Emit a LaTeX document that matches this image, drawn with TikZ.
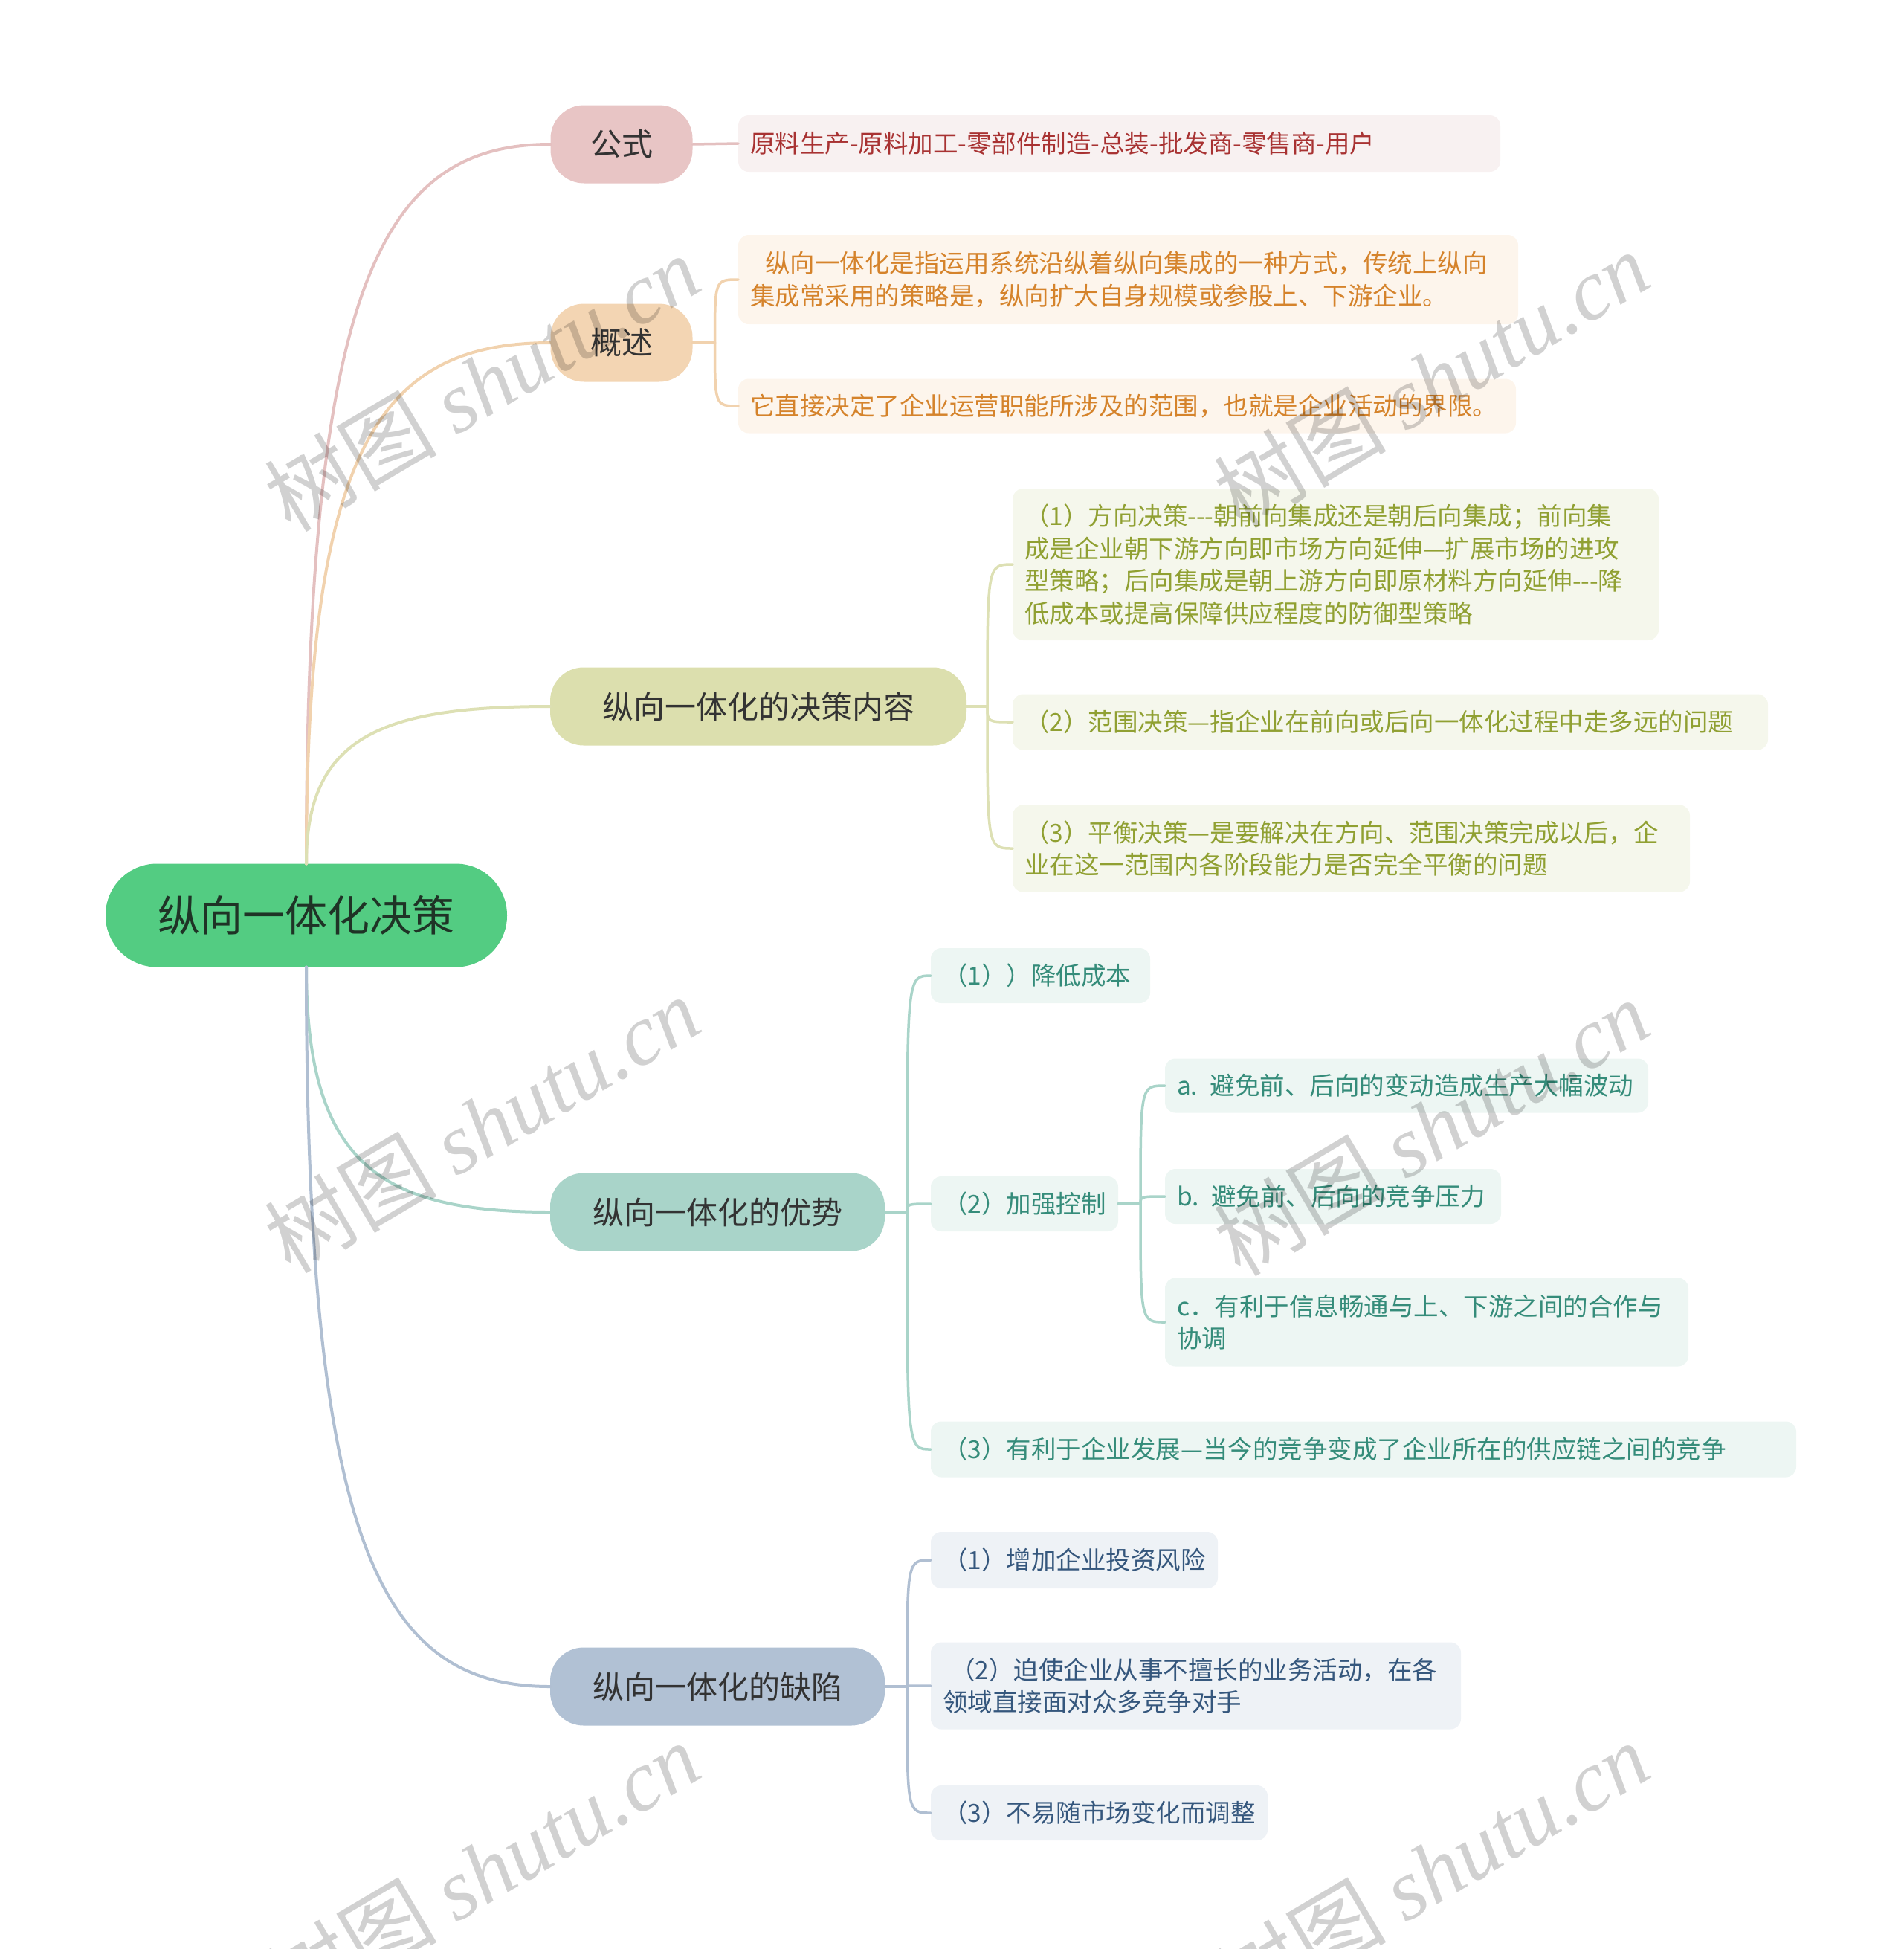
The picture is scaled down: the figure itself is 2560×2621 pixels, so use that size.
\documentclass[tikz,border=0pt]{standalone}
\usepackage{fontspec}
\setmainfont{Noto Sans CJK SC}
\newfontfamily\wmserif{Liberation Serif}
\usetikzlibrary{calc}

\definecolor{rootfill}{HTML}{53CC82}
\definecolor{roottext}{HTML}{1F3326}
\definecolor{topictext}{HTML}{333333}
% branch 1 (formula)
\definecolor{aFill}{HTML}{E8C5C5}
\definecolor{aLine}{HTML}{E4C0C0}
\definecolor{aBg}{HTML}{F8F1F1}
\definecolor{aTxt}{HTML}{A83232}
% branch 2 (overview)
\definecolor{bFill}{HTML}{F3D5B3}
\definecolor{bLine}{HTML}{F1D2AE}
\definecolor{bBg}{HTML}{FDF5EC}
\definecolor{bTxt}{HTML}{D5832B}
% branch 3 (decision content)
\definecolor{cFill}{HTML}{DCDFAE}
\definecolor{cLine}{HTML}{DDE0B4}
\definecolor{cBg}{HTML}{F5F7EC}
\definecolor{cTxt}{HTML}{90A032}
% branch 4 (advantages)
\definecolor{dFill}{HTML}{A9D4C9}
\definecolor{dLine}{HTML}{A9D4C9}
\definecolor{dBg}{HTML}{EDF6F3}
\definecolor{dTxt}{HTML}{358C7A}
% branch 5 (defects)
\definecolor{eFill}{HTML}{B1C1D4}
\definecolor{eLine}{HTML}{B0BFD2}
\definecolor{eBg}{HTML}{EEF2F6}
\definecolor{eTxt}{HTML}{35577D}

\begin{document}
\begin{tikzpicture}[x=1pt,y=-1pt,
  every node/.style={inner sep=0pt, outer sep=0pt},
  rootbox/.style={fill=rootfill, rounded corners=69pt, minimum width=540pt,
    minimum height=139pt, font=\fontsize{57}{68}\selectfont, text=roottext},
  topic/.style={rounded corners=45pt, minimum height=105pt,
    font=\fontsize{42}{50}\selectfont, text=topictext},
  leaf/.style={rounded corners=14pt, inner xsep=16pt, align=left, anchor=west,
    font=\fontsize{33.5}{43.6}\selectfont},
  la/.style={leaf, fill=aBg, text=aTxt},
  lb/.style={leaf, fill=bBg, text=bTxt},
  lc/.style={leaf, fill=cBg, text=cTxt},
  ld/.style={leaf, fill=dBg, text=dTxt},
  le/.style={leaf, fill=eBg, text=eTxt},
  mainline/.style={line width=4pt, line cap=round},
  subline/.style={line width=3.5pt, line cap=round},
  wm/.style={text=black, text opacity=0.18, rotate=30.6,
    font=\fontsize{116}{126}\selectfont}
]
\useasboundingbox (0,0) rectangle (2560,2621);

% root and topics
\node[rootbox] (root) at (412,1231) {纵向一体化决策};
\node[topic, fill=aFill, minimum width=191pt] (g1) at (836,194) {公式};
\node[topic, fill=bFill, minimum width=191pt] (g2) at (836,461) {概述};
\node[topic, fill=cFill, minimum width=560pt] (g3) at (1020,950) {纵向一体化的决策内容};
\node[topic, fill=dFill, minimum width=450pt] (g4) at (965,1630) {纵向一体化的优势};
\node[topic, fill=eFill, minimum width=450pt] (g5) at (965,2268) {纵向一体化的缺陷};

% leaves
\node[la, text width=993pt, minimum height=76pt] (a1) at (993,193)
  {原料生产-原料加工-零部件制造-总装-批发商-零售商-用户};

\node[lb, text width=1017pt, minimum height=120pt] (b1) at (993,376)
  {\hspace*{20pt}纵向一体化是指运用系统沿纵着纵向集成的一种方式，传统上纵向\\集成常采用的策略是，纵向扩大自身规模或参股上、下游企业。};
\node[lb, text width=1014pt, minimum height=73pt] (b2) at (993,546)
  {它直接决定了企业运营职能所涉及的范围，也就是企业活动的界限。};

\node[lc, text width=837pt, minimum height=204pt] (c1) at (1362,759)
  {（1）方向决策-{}-{}-朝前向集成还是朝后向集成；前向集\\成是企业朝下游方向即市场方向延伸—扩展市场的进攻\\型策略；后向集成是朝上游方向即原材料方向延伸-{}-{}-降\\低成本或提高保障供应程度的防御型策略};
\node[lc, text width=984pt, minimum height=75pt] (c2) at (1362,971)
  {（2）范围决策—指企业在前向或后向一体化过程中走多远的问题};
\node[lc, text width=879pt, minimum height=117pt] (c3) at (1362,1141)
  {（3）平衡决策—是要解决在方向、范围决策完成以后，企\\业在这一范围内各阶段能力是否完全平衡的问题};

\node[ld, text width=263pt, minimum height=74pt] (d1) at (1252,1312) {（1））降低成本};
\node[ld, text width=220pt, minimum height=74pt] (d2) at (1252,1619) {（2）加强控制};
\node[ld, text width=618pt, minimum height=73pt] (d2a) at (1567,1460) {a. 避免前、后向的变动造成生产大幅波动};
\node[ld, text width=420pt, minimum height=74pt] (d2b) at (1567,1609) {b. 避免前、后向的竞争压力};
\node[ld, text width=672pt, minimum height=119pt] (d2c) at (1567,1778)
  {c．有利于信息畅通与上、下游之间的合作与\\协调};
\node[ld, text width=1132pt, minimum height=75pt] (d3) at (1252,1949)
  {（3）有利于企业发展—当今的竞争变成了企业所在的供应链之间的竞争};

\node[le, text width=354pt, minimum height=76pt] (e1) at (1252,2098) {（1）增加企业投资风险};
\node[le, text width=681pt, minimum height=117pt] (e2) at (1252,2267)
  {\hspace*{10pt}（2）迫使企业从事不擅长的业务活动，在各\\领域直接面对众多竞争对手};
\node[le, text width=421pt, minimum height=74pt] (e3) at (1252,2438) {（3）不易随市场变化而调整};

% root to topics
\draw[mainline, aLine] (root.north) .. controls ($(root.north)!0.8!(root.north |- g1.west)$) and ($(g1.west)+(-230,0)$) .. (g1.west);
\draw[mainline, bLine] (root.north) .. controls ($(root.north)!0.8!(root.north |- g2.west)$) and ($(g2.west)+(-230,0)$) .. (g2.west);
\draw[mainline, cLine] (root.north) .. controls ($(root.north)!0.8!(root.north |- g3.west)$) and ($(g3.west)+(-230,0)$) .. (g3.west);
\draw[mainline, dLine] (root.south) .. controls ($(root.south)!0.8!(root.south |- g4.west)$) and ($(g4.west)+(-230,0)$) .. (g4.west);
\draw[mainline, eLine] (root.south) .. controls ($(root.south)!0.8!(root.south |- g5.west)$) and ($(g5.west)+(-230,0)$) .. (g5.west);

% topic 1
\draw[subline, aLine] (g1.east) -- (a1.west);

% junctions
\coordinate (j2) at ($(g2.east)+(30,0)$);
\coordinate (j3) at ($(g3.east)+(28,0)$);
\coordinate (j4) at ($(g4.east)+(30,0)$);
\coordinate (j42) at ($(d2.east)+(30,0)$);
\coordinate (j5) at ($(g5.east)+(30,0)$);

\draw[subline, bLine] (g2.east) -- (j2);
\foreach \c in {b1,b2}
  \draw[subline, bLine] (j2) .. controls (j2 |- \c.west) and (j2 |- \c.west) .. (\c.west);

\draw[subline, cLine] (g3.east) -- (j3);
\foreach \c in {c1,c2,c3}
  \draw[subline, cLine] (j3) .. controls (j3 |- \c.west) and (j3 |- \c.west) .. (\c.west);

\draw[subline, dLine] (g4.east) -- (j4);
\foreach \c in {d1,d2,d3}
  \draw[subline, dLine] (j4) .. controls (j4 |- \c.west) and (j4 |- \c.west) .. (\c.west);

\draw[subline, dLine] (d2.east) -- (j42);
\foreach \c in {d2a,d2b,d2c}
  \draw[subline, dLine] (j42) .. controls (j42 |- \c.west) and (j42 |- \c.west) .. (\c.west);

\draw[subline, eLine] (g5.east) -- (j5);
\foreach \c in {e1,e2,e3}
  \draw[subline, eLine] (j5) .. controls (j5 |- \c.west) and (j5 |- \c.west) .. (\c.west);

% watermarks
\node[wm] (w1) at (648,515) {树图 {\wmserif\itshape shutu.cn}};
\node[wm] (w2) at (1925,510) {树图 {\wmserif\itshape shutu.cn}};
\node[wm] (w3) at (648,1512) {树图 {\wmserif\itshape shutu.cn}};
\node[wm] (w4) at (1925,1516) {树图 {\wmserif\itshape shutu.cn}};
\node[wm] (w5) at (648,2515) {树图 {\wmserif\itshape shutu.cn}};
\node[wm] (w6) at (1925,2515) {树图 {\wmserif\itshape shutu.cn}};
\end{tikzpicture}
\end{document}
